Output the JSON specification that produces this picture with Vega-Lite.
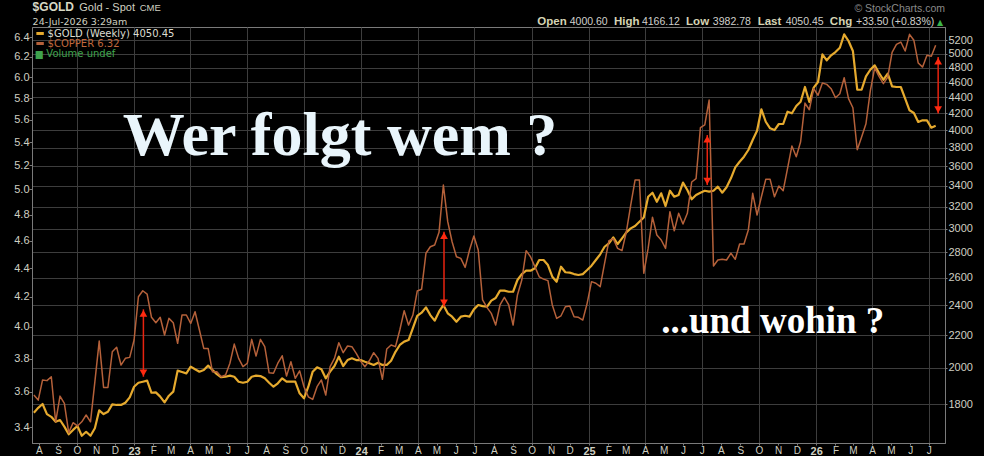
{
  "$schema": "https://vega.github.io/schema/vega-lite/v6.json",
  "width": 913,
  "height": 416,
  "autosize": {"type": "none"},
  "padding": {"left": 32, "top": 27, "right": 39, "bottom": 13},
  "background": "#000000",
  "config": {
    "view": {"stroke": "#7a7a7a", "strokeWidth": 1},
    "axis": {"labelFont": "Liberation Sans", "labelColor": "#cfcfc2", "labelFontSize": 11, "domainColor": "#7a7a7a", "tickColor": "#7a7a7a", "gridColor": "#3d3d3d", "gridWidth": 1}
  },
  "datasets": {
    "weekly": [
      {"date":"2022-07-24","gold":1755,"copper":3.581},{"date":"2022-07-31","gold":1780,"copper":3.552},{"date":"2022-08-07","gold":1800,"copper":3.670},{"date":"2022-08-14","gold":1748,"copper":3.666},{"date":"2022-08-21","gold":1734,"copper":3.689},{"date":"2022-08-28","gold":1709,"copper":3.429},{"date":"2022-09-04","gold":1718,"copper":3.575},{"date":"2022-09-11","gold":1685,"copper":3.533},{"date":"2022-09-18","gold":1648,"copper":3.369},{"date":"2022-09-25","gold":1669,"copper":3.424},
      {"date":"2022-10-02","gold":1688,"copper":3.406},{"date":"2022-10-09","gold":1641,"copper":3.429},{"date":"2022-10-16","gold":1660,"copper":3.467},{"date":"2022-10-23","gold":1641,"copper":3.429},{"date":"2022-10-30","gold":1677,"copper":3.659},{"date":"2022-11-06","gold":1767,"copper":3.909},{"date":"2022-11-13","gold":1748,"copper":3.626},{"date":"2022-11-20","gold":1760,"copper":3.626},{"date":"2022-11-27","gold":1798,"copper":3.842},{"date":"2022-12-04","gold":1795,"copper":3.870},
      {"date":"2022-12-11","gold":1795,"copper":3.760},{"date":"2022-12-18","gold":1807,"copper":3.801},{"date":"2022-12-25","gold":1835,"copper":3.807},{"date":"2023-01-01","gold":1893,"copper":3.916},{"date":"2023-01-08","gold":1915,"copper":4.201},{"date":"2023-01-15","gold":1921,"copper":4.242},{"date":"2023-01-22","gold":1927,"copper":4.219},{"date":"2023-01-29","gold":1860,"copper":4.063},{"date":"2023-02-05","gold":1862,"copper":4.027},{"date":"2023-02-12","gold":1839,"copper":4.063},
      {"date":"2023-02-19","gold":1809,"copper":3.948},{"date":"2023-02-26","gold":1844,"copper":4.056},{"date":"2023-03-05","gold":1866,"copper":4.027},{"date":"2023-03-12","gold":1984,"copper":3.895},{"date":"2023-03-19","gold":1976,"copper":4.078},{"date":"2023-03-26","gold":1968,"copper":4.078},{"date":"2023-04-02","gold":2007,"copper":4.023},{"date":"2023-04-09","gold":1992,"copper":4.100},{"date":"2023-04-16","gold":1978,"copper":3.980},{"date":"2023-04-23","gold":1988,"copper":3.863},
      {"date":"2023-04-30","gold":2013,"copper":3.863},{"date":"2023-05-07","gold":1988,"copper":3.719},{"date":"2023-05-14","gold":1964,"copper":3.719},{"date":"2023-05-21","gold":1946,"copper":3.689},{"date":"2023-05-28","gold":1949,"copper":3.700},{"date":"2023-06-04","gold":1955,"copper":3.771},{"date":"2023-06-11","gold":1949,"copper":3.890},{"date":"2023-06-18","gold":1921,"copper":3.801},{"date":"2023-06-25","gold":1915,"copper":3.750},{"date":"2023-07-02","gold":1921,"copper":3.771},
      {"date":"2023-07-09","gold":1949,"copper":3.920},{"date":"2023-07-16","gold":1955,"copper":3.815},{"date":"2023-07-23","gold":1953,"copper":3.920},{"date":"2023-07-30","gold":1940,"copper":3.874},{"date":"2023-08-06","gold":1915,"copper":3.713},{"date":"2023-08-13","gold":1893,"copper":3.710},{"date":"2023-08-20","gold":1912,"copper":3.771},{"date":"2023-08-27","gold":1940,"copper":3.817},{"date":"2023-09-03","gold":1921,"copper":3.693},{"date":"2023-09-10","gold":1921,"copper":3.780},
      {"date":"2023-09-17","gold":1921,"copper":3.680},{"date":"2023-09-24","gold":1857,"copper":3.725},{"date":"2023-10-01","gold":1830,"copper":3.630},{"date":"2023-10-08","gold":1893,"copper":3.571},{"date":"2023-10-15","gold":1978,"copper":3.556},{"date":"2023-10-22","gold":2003,"copper":3.630},{"date":"2023-10-29","gold":1992,"copper":3.670},{"date":"2023-11-05","gold":1940,"copper":3.581},{"date":"2023-11-12","gold":1978,"copper":3.750},{"date":"2023-11-19","gold":2011,"copper":3.801},
      {"date":"2023-11-26","gold":2066,"copper":3.899},{"date":"2023-12-03","gold":2011,"copper":3.836},{"date":"2023-12-10","gold":2046,"copper":3.878},{"date":"2023-12-17","gold":2057,"copper":3.874},{"date":"2023-12-24","gold":2046,"copper":3.832},{"date":"2023-12-31","gold":2046,"copper":3.784},{"date":"2024-01-07","gold":2036,"copper":3.750},{"date":"2024-01-14","gold":2027,"copper":3.786},{"date":"2024-01-21","gold":2017,"copper":3.836},{"date":"2024-01-28","gold":2030,"copper":3.801},
      {"date":"2024-02-04","gold":2017,"copper":3.674},{"date":"2024-02-11","gold":2017,"copper":3.859},{"date":"2024-02-18","gold":2042,"copper":3.884},{"date":"2024-02-25","gold":2096,"copper":3.874},{"date":"2024-03-03","gold":2138,"copper":3.980},{"date":"2024-03-10","gold":2159,"copper":4.107},{"date":"2024-03-17","gold":2169,"copper":4.012},{"date":"2024-03-24","gold":2245,"copper":4.078},{"date":"2024-03-31","gold":2328,"copper":4.240},{"date":"2024-04-07","gold":2349,"copper":4.252},
      {"date":"2024-04-14","gold":2386,"copper":4.508},{"date":"2024-04-21","gold":2333,"copper":4.556},{"date":"2024-04-28","gold":2295,"copper":4.569},{"date":"2024-05-05","gold":2356,"copper":4.664},{"date":"2024-05-12","gold":2402,"copper":5.036},{"date":"2024-05-19","gold":2345,"copper":4.745},{"date":"2024-05-26","gold":2322,"copper":4.593},{"date":"2024-06-02","gold":2288,"copper":4.483},{"date":"2024-06-09","gold":2322,"copper":4.471},{"date":"2024-06-16","gold":2328,"copper":4.406},
      {"date":"2024-06-23","gold":2322,"copper":4.532},{"date":"2024-06-30","gold":2372,"copper":4.636},{"date":"2024-07-07","gold":2402,"copper":4.532},{"date":"2024-07-14","gold":2395,"copper":4.179},{"date":"2024-07-21","gold":2390,"copper":4.129},{"date":"2024-07-28","gold":2433,"copper":4.089},{"date":"2024-08-04","gold":2452,"copper":4.012},{"date":"2024-08-11","gold":2505,"copper":4.145},{"date":"2024-08-18","gold":2505,"copper":4.197},{"date":"2024-08-25","gold":2497,"copper":4.145},
      {"date":"2024-09-01","gold":2497,"copper":4.012},{"date":"2024-09-08","gold":2584,"copper":4.213},{"date":"2024-09-15","gold":2629,"copper":4.316},{"date":"2024-09-22","gold":2655,"copper":4.527},{"date":"2024-09-29","gold":2655,"copper":4.483},{"date":"2024-10-06","gold":2674,"copper":4.411},{"date":"2024-10-13","gold":2739,"copper":4.339},{"date":"2024-10-20","gold":2739,"copper":4.323},{"date":"2024-10-27","gold":2699,"copper":4.312},{"date":"2024-11-03","gold":2609,"copper":4.145},
      {"date":"2024-11-10","gold":2571,"copper":4.056},{"date":"2024-11-17","gold":2686,"copper":4.073},{"date":"2024-11-24","gold":2643,"copper":4.133},{"date":"2024-12-01","gold":2640,"copper":4.138},{"date":"2024-12-08","gold":2629,"copper":4.067},{"date":"2024-12-15","gold":2622,"copper":4.063},{"date":"2024-12-22","gold":2629,"copper":4.045},{"date":"2024-12-29","gold":2660,"copper":4.156},{"date":"2025-01-05","gold":2694,"copper":4.305},{"date":"2025-01-12","gold":2739,"copper":4.294},
      {"date":"2025-01-19","gold":2785,"copper":4.270},{"date":"2025-01-26","gold":2847,"copper":4.435},{"date":"2025-02-02","gold":2876,"copper":4.601},{"date":"2025-02-09","gold":2926,"copper":4.616},{"date":"2025-02-16","gold":2870,"copper":4.544},{"date":"2025-02-23","gold":2918,"copper":4.527},{"date":"2025-03-02","gold":2969,"copper":4.668},{"date":"2025-03-09","gold":3004,"copper":4.875},{"date":"2025-03-16","gold":3025,"copper":5.077},{"date":"2025-03-23","gold":3063,"copper":5.077},
      {"date":"2025-03-30","gold":3100,"copper":4.364},{"date":"2025-04-06","gold":3294,"copper":4.544},{"date":"2025-04-13","gold":3333,"copper":4.780},{"date":"2025-04-20","gold":3246,"copper":4.644},{"date":"2025-04-27","gold":3327,"copper":4.606},{"date":"2025-05-04","gold":3206,"copper":4.544},{"date":"2025-05-11","gold":3352,"copper":4.823},{"date":"2025-05-18","gold":3294,"copper":4.676},{"date":"2025-05-25","gold":3311,"copper":4.810},{"date":"2025-06-01","gold":3432,"copper":4.727},
      {"date":"2025-06-08","gold":3359,"copper":4.810},{"date":"2025-06-15","gold":3270,"copper":5.061},{"date":"2025-06-22","gold":3311,"copper":5.088},{"date":"2025-06-29","gold":3333,"copper":5.527},{"date":"2025-07-06","gold":3352,"copper":5.552},{"date":"2025-07-13","gold":3343,"copper":5.781},{"date":"2025-07-20","gold":3352,"copper":4.416},{"date":"2025-07-27","gold":3392,"copper":4.459},{"date":"2025-08-03","gold":3333,"copper":4.464},{"date":"2025-08-10","gold":3386,"copper":4.459},
      {"date":"2025-08-17","gold":3476,"copper":4.508},{"date":"2025-08-24","gold":3589,"copper":4.464},{"date":"2025-08-31","gold":3648,"copper":4.576},{"date":"2025-09-07","gold":3702,"copper":4.576},{"date":"2025-09-14","gold":3775,"copper":4.681},{"date":"2025-09-21","gold":3887,"copper":4.969},{"date":"2025-09-28","gold":3993,"copper":4.797},{"date":"2025-10-05","gold":4250,"copper":4.941},{"date":"2025-10-12","gold":4099,"copper":5.083},{"date":"2025-10-19","gold":4021,"copper":5.083},
      {"date":"2025-10-26","gold":4001,"copper":4.941},{"date":"2025-11-02","gold":4072,"copper":5.028},{"date":"2025-11-09","gold":4072,"copper":4.990},{"date":"2025-11-16","gold":4221,"copper":5.175},{"date":"2025-11-23","gold":4201,"copper":5.366},{"date":"2025-11-30","gold":4291,"copper":5.273},{"date":"2025-12-07","gold":4345,"copper":5.403},{"date":"2025-12-14","gold":4536,"copper":5.753},{"date":"2025-12-21","gold":4342,"copper":5.691},{"date":"2025-12-28","gold":4527,"copper":5.889},
      {"date":"2026-01-04","gold":4602,"copper":5.826},{"date":"2026-01-11","gold":4989,"copper":5.943},{"date":"2026-01-18","gold":4903,"copper":5.930},{"date":"2026-01-25","gold":4975,"copper":5.889},{"date":"2026-02-01","gold":5023,"copper":5.803},{"date":"2026-02-08","gold":5086,"copper":5.841},{"date":"2026-02-15","gold":5289,"copper":5.994},{"date":"2026-02-22","gold":5187,"copper":5.794},{"date":"2026-03-01","gold":5038,"copper":5.709},{"date":"2026-03-08","gold":4500,"copper":5.333},
      {"date":"2026-03-15","gold":4500,"copper":5.444},{"date":"2026-03-22","gold":4679,"copper":5.563},{"date":"2026-03-29","gold":4770,"copper":5.867},{"date":"2026-04-05","gold":4832,"copper":6.092},{"date":"2026-04-12","gold":4725,"copper":6.008},{"date":"2026-04-19","gold":4633,"copper":5.937},{"date":"2026-04-26","gold":4715,"copper":6.001},{"date":"2026-05-03","gold":4545,"copper":6.247},{"date":"2026-05-10","gold":4536,"copper":6.328},{"date":"2026-05-17","gold":4536,"copper":6.352},
      {"date":"2026-05-24","gold":4384,"copper":6.260},{"date":"2026-05-31","gold":4238,"copper":6.432},{"date":"2026-06-07","gold":4205,"copper":6.370},{"date":"2026-06-14","gold":4096,"copper":6.139},{"date":"2026-06-21","gold":4116,"copper":6.099},{"date":"2026-06-28","gold":4116,"copper":6.217},{"date":"2026-07-05","gold":4028,"copper":6.207},{"date":"2026-07-12","gold":4050.45,"copper":6.32}
    ],
    "arrows": [
      {"date":"2023-01-16","top":4.116,"bottom":3.689},
      {"date":"2024-05-13","top":4.669,"bottom":4.133},
      {"date":"2025-07-10","top":5.462,"bottom":5.036},
      {"date":"2026-07-16","top":6.199,"bottom":5.656}
    ]
  },
  "data": {"name": "weekly"},
  "layer": [
    {
      "mark": {"type": "line", "color": "#e6aa2e", "strokeWidth": 2.2, "strokeJoin": "round"},
      "encoding": {
        "x": {
          "field": "date", "type": "temporal", "title": null,
          "scale": {"domain": [{"year": 2022, "month": 7, "date": 21}, {"year": 2026, "month": 7, "date": 27}]},
          "axis": {
            "tickCount": {"interval": "month", "step": 1},
            "labelExpr": "month(datum.value) == 0 ? timeFormat(datum.value, '%y') : substring(timeFormat(datum.value, '%b'), 0, 1)",
            "labelFontWeight": {"condition": {"test": "month(datum.value) == 0", "value": "bold"}, "value": "normal"},
            "labelFontSize": {"condition": {"test": "month(datum.value) == 0", "value": 11}, "value": 10},
            "labelFlush": false, "labelOverlap": false, "labelBaseline": "top",
            "grid": true,
            "gridOpacity": {"condition": {"test": "month(datum.value) % 3 == 0", "value": 1}, "value": 0},
            "tickSize": 2, "labelPadding": 0
          }
        },
        "y": {
          "field": "gold", "type": "quantitative", "title": null,
          "scale": {"type": "log", "domain": [1606.6, 5403], "nice": false},
          "axis": {"orient": "right", "values": [1800, 2000, 2200, 2400, 2600, 2800, 3000, 3200, 3400, 3600, 3800, 4000, 4200, 4400, 4600, 4800, 5000, 5200], "format": "d", "grid": true, "tickSize": 2, "labelPadding": 1, "labelOverlap": false}
        }
      }
    },
    {
      "layer": [
        {
          "mark": {"type": "line", "color": "#b5613a", "strokeWidth": 1.5, "strokeJoin": "round"},
          "encoding": {
            "x": {"field": "date", "type": "temporal", "title": null},
            "y": {
              "field": "copper", "type": "quantitative", "title": null,
              "scale": {"type": "log", "domain": [3.313, 6.509], "nice": false},
              "axis": {"orient": "left", "values": [3.4, 3.6, 3.8, 4.0, 4.2, 4.4, 4.6, 4.8, 5.0, 5.2, 5.4, 5.6, 5.8, 6.0, 6.2, 6.4], "format": ".1f", "grid": false, "tickSize": 3, "labelPadding": 0, "labelOverlap": false}
            }
          }
        },
        {
          "data": {"name": "arrows"},
          "mark": {"type": "rule", "color": "#e8230f", "strokeWidth": 1.5},
          "encoding": {
            "x": {"field": "date", "type": "temporal", "title": null},
            "y": {"field": "top", "type": "quantitative", "title": null},
            "y2": {"field": "bottom"}
          }
        },
        {
          "data": {"name": "arrows"},
          "mark": {"type": "point", "shape": "triangle-up", "filled": true, "size": 60, "color": "#ff2a10", "opacity": 1, "yOffset": 4},
          "encoding": {
            "x": {"field": "date", "type": "temporal", "title": null},
            "y": {"field": "top", "type": "quantitative", "title": null}
          }
        },
        {
          "data": {"name": "arrows"},
          "mark": {"type": "point", "shape": "triangle-down", "filled": true, "size": 60, "color": "#ff2a10", "opacity": 1, "yOffset": -4},
          "encoding": {
            "x": {"field": "date", "type": "temporal", "title": null},
            "y": {"field": "bottom", "type": "quantitative", "title": null}
          }
        },
        {
          "data": {"values": [{}]},
          "mark": {"type": "text", "text": "Wer folgt wem ?", "align": "left", "baseline": "alphabetic", "font": "Liberation Serif", "fontWeight": "bold", "fontSize": 62, "color": "#e9f5fb"},
          "encoding": {"x": {"datum": {"year": 2022, "month": 12, "date": 14}, "type": "temporal", "title": null}, "y": {"datum": 5.288, "type": "quantitative", "title": null}}
        },
        {
          "data": {"values": [{}]},
          "mark": {"type": "text", "text": "...und wohin ?", "align": "left", "baseline": "alphabetic", "font": "Liberation Serif", "fontWeight": "bold", "fontSize": 37, "color": "#ffffff"},
          "encoding": {"x": {"datum": {"year": 2025, "month": 4, "date": 27}, "type": "temporal", "title": null}, "y": {"datum": 3.961, "type": "quantitative", "title": null}}
        },
        {
          "data": {"values": [{}]},
          "mark": {"type": "rule", "color": "#e6aa2e", "strokeWidth": 3},
          "encoding": {"x": {"datum": {"year": 2022, "month": 7, "date": 28}, "type": "temporal", "title": null}, "x2": {"datum": {"year": 2022, "month": 8, "date": 9}}, "y": {"datum": 6.441, "type": "quantitative", "title": null}}
        },
        {
          "data": {"values": [{}]},
          "mark": {"type": "rule", "color": "#b5613a", "strokeWidth": 3},
          "encoding": {"x": {"datum": {"year": 2022, "month": 7, "date": 28}, "type": "temporal", "title": null}, "x2": {"datum": {"year": 2022, "month": 8, "date": 9}}, "y": {"datum": 6.337, "type": "quantitative", "title": null}}
        },
        {
          "data": {"values": [{}]},
          "mark": {"type": "text", "text": "$GOLD (Weekly) 4050.45", "align": "left", "baseline": "alphabetic", "font": "DejaVu Sans", "fontSize": 10, "color": "#dcdcd0"},
          "encoding": {"x": {"datum": {"year": 2022, "month": 8, "date": 15}, "type": "temporal", "title": null}, "y": {"datum": 6.401, "type": "quantitative", "title": null}}
        },
        {
          "data": {"values": [{}]},
          "mark": {"type": "text", "text": "$COPPER 6.32", "align": "left", "baseline": "alphabetic", "font": "DejaVu Sans", "fontSize": 10, "color": "#c0683c"},
          "encoding": {"x": {"datum": {"year": 2022, "month": 8, "date": 15}, "type": "temporal", "title": null}, "y": {"datum": 6.298, "type": "quantitative", "title": null}}
        },
        {
          "data": {"values": [{}]},
          "mark": {"type": "text", "text": "Volume undef", "align": "left", "baseline": "alphabetic", "font": "DejaVu Sans", "fontSize": 10, "color": "#3fa34d"},
          "encoding": {"x": {"datum": {"year": 2022, "month": 8, "date": 13}, "type": "temporal", "title": null}, "y": {"datum": 6.203, "type": "quantitative", "title": null}}
        },
        {
          "data": {"values": [{}]},
          "mark": {"type": "text", "text": "▆", "align": "left", "baseline": "alphabetic", "font": "DejaVu Sans", "fontSize": 9, "color": "#3fa34d"},
          "encoding": {"x": {"datum": {"year": 2022, "month": 7, "date": 27}, "type": "temporal", "title": null}, "y": {"datum": 6.203, "type": "quantitative", "title": null}}
        },
        {
          "data": {"values": [{}]},
          "mark": {"type": "text", "text": "$GOLD", "align": "left", "baseline": "alphabetic", "font": "Liberation Sans", "fontWeight": "bold", "fontSize": 12, "color": "#d8d8c4"},
          "encoding": {"x": {"datum": {"year": 2022, "month": 7, "date": 22}, "type": "temporal", "title": null}, "y": {"datum": 6.675, "type": "quantitative", "title": null}}
        },
        {
          "data": {"values": [{}]},
          "mark": {"type": "text", "text": "Gold - Spot", "align": "left", "baseline": "alphabetic", "font": "Liberation Sans", "fontSize": 11, "color": "#d0d0c0"},
          "encoding": {"x": {"datum": {"year": 2022, "month": 10, "date": 5}, "type": "temporal", "title": null}, "y": {"datum": 6.675, "type": "quantitative", "title": null}}
        },
        {
          "data": {"values": [{}]},
          "mark": {"type": "text", "text": "CME", "align": "left", "baseline": "alphabetic", "font": "Liberation Sans", "fontSize": 9.5, "color": "#d0d0c0"},
          "encoding": {"x": {"datum": {"year": 2023, "month": 1, "date": 10}, "type": "temporal", "title": null}, "y": {"datum": 6.675, "type": "quantitative", "title": null}}
        },
        {
          "data": {"values": [{}]},
          "mark": {"type": "text", "text": "24-Jul-2026 3:29am", "align": "left", "baseline": "alphabetic", "font": "DejaVu Sans", "fontSize": 9.5, "color": "#d0d0c0"},
          "encoding": {"x": {"datum": {"year": 2022, "month": 7, "date": 22}, "type": "temporal", "title": null}, "y": {"datum": 6.530, "type": "quantitative", "title": null}}
        },
        {
          "data": {"values": [{}]},
          "mark": {"type": "text", "text": "© StockCharts.com", "align": "right", "baseline": "alphabetic", "font": "Liberation Sans", "fontSize": 10.5, "color": "#8a8a8a"},
          "encoding": {"x": {"datum": {"year": 2026, "month": 7, "date": 27}, "type": "temporal", "title": null}, "y": {"datum": 6.673, "type": "quantitative", "title": null}}
        },
        {
          "data": {"values": [{}]},
          "mark": {"type": "text", "text": "Open", "align": "left", "baseline": "alphabetic", "font": "Liberation Sans", "fontWeight": "bold", "fontSize": 11.5, "color": "#d6d4b4"},
          "encoding": {"x": {"datum": {"year": 2024, "month": 10, "date": 10}, "type": "temporal", "title": null}, "y": {"datum": 6.530, "type": "quantitative", "title": null}}
        },
        {
          "data": {"values": [{}]},
          "mark": {"type": "text", "text": "4000.60", "align": "left", "baseline": "alphabetic", "font": "Liberation Sans", "fontSize": 10.5, "color": "#d0d0cc"},
          "encoding": {"x": {"datum": {"year": 2024, "month": 12, "date": 1}, "type": "temporal", "title": null}, "y": {"datum": 6.530, "type": "quantitative", "title": null}}
        },
        {
          "data": {"values": [{}]},
          "mark": {"type": "text", "text": "High", "align": "left", "baseline": "alphabetic", "font": "Liberation Sans", "fontWeight": "bold", "fontSize": 11.5, "color": "#d6d4b4"},
          "encoding": {"x": {"datum": {"year": 2025, "month": 2, "date": 10}, "type": "temporal", "title": null}, "y": {"datum": 6.530, "type": "quantitative", "title": null}}
        },
        {
          "data": {"values": [{}]},
          "mark": {"type": "text", "text": "4166.12", "align": "left", "baseline": "alphabetic", "font": "Liberation Sans", "fontSize": 10.5, "color": "#d0d0cc"},
          "encoding": {"x": {"datum": {"year": 2025, "month": 3, "date": 27}, "type": "temporal", "title": null}, "y": {"datum": 6.530, "type": "quantitative", "title": null}}
        },
        {
          "data": {"values": [{}]},
          "mark": {"type": "text", "text": "Low", "align": "left", "baseline": "alphabetic", "font": "Liberation Sans", "fontWeight": "bold", "fontSize": 11.5, "color": "#d6d4b4"},
          "encoding": {"x": {"datum": {"year": 2025, "month": 6, "date": 6}, "type": "temporal", "title": null}, "y": {"datum": 6.530, "type": "quantitative", "title": null}}
        },
        {
          "data": {"values": [{}]},
          "mark": {"type": "text", "text": "3982.78", "align": "left", "baseline": "alphabetic", "font": "Liberation Sans", "fontSize": 10.5, "color": "#d0d0cc"},
          "encoding": {"x": {"datum": {"year": 2025, "month": 7, "date": 19}, "type": "temporal", "title": null}, "y": {"datum": 6.530, "type": "quantitative", "title": null}}
        },
        {
          "data": {"values": [{}]},
          "mark": {"type": "text", "text": "Last", "align": "left", "baseline": "alphabetic", "font": "Liberation Sans", "fontWeight": "bold", "fontSize": 11.5, "color": "#d6d4b4"},
          "encoding": {"x": {"datum": {"year": 2025, "month": 9, "date": 29}, "type": "temporal", "title": null}, "y": {"datum": 6.530, "type": "quantitative", "title": null}}
        },
        {
          "data": {"values": [{}]},
          "mark": {"type": "text", "text": "4050.45", "align": "left", "baseline": "alphabetic", "font": "Liberation Sans", "fontSize": 10.5, "color": "#d0d0cc"},
          "encoding": {"x": {"datum": {"year": 2025, "month": 11, "date": 13}, "type": "temporal", "title": null}, "y": {"datum": 6.530, "type": "quantitative", "title": null}}
        },
        {
          "data": {"values": [{}]},
          "mark": {"type": "text", "text": "Chg", "align": "left", "baseline": "alphabetic", "font": "Liberation Sans", "fontWeight": "bold", "fontSize": 11.5, "color": "#d6d4b4"},
          "encoding": {"x": {"datum": {"year": 2026, "month": 1, "date": 23}, "type": "temporal", "title": null}, "y": {"datum": 6.530, "type": "quantitative", "title": null}}
        },
        {
          "data": {"values": [{}]},
          "mark": {"type": "text", "text": "+33.50 (+0.83%)", "align": "left", "baseline": "alphabetic", "font": "Liberation Sans", "fontSize": 10.5, "color": "#d0d0cc"},
          "encoding": {"x": {"datum": {"year": 2026, "month": 3, "date": 6}, "type": "temporal", "title": null}, "y": {"datum": 6.530, "type": "quantitative", "title": null}}
        },
        {
          "data": {"values": [{}]},
          "mark": {"type": "text", "text": "▲", "align": "left", "baseline": "alphabetic", "font": "DejaVu Sans", "fontSize": 8, "color": "#3cb54a"},
          "encoding": {"x": {"datum": {"year": 2026, "month": 7, "date": 14}, "type": "temporal", "title": null}, "y": {"datum": 6.530, "type": "quantitative", "title": null}}
        }
      ]
    }
  ],
  "resolve": {"scale": {"y": "independent"}, "axis": {"y": "independent"}}
}
